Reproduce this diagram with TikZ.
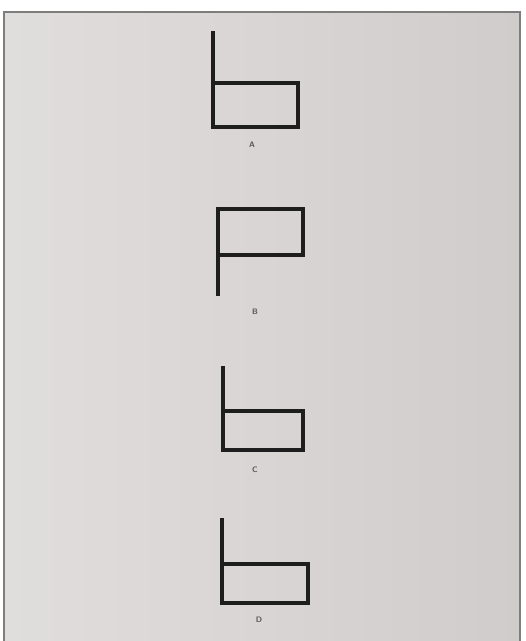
\documentclass[tikz,border=0pt]{standalone}
\usepackage{tikz}
\usepackage{xcolor}
\definecolor{paperL}{RGB}{224,222,221}
\definecolor{paperR}{RGB}{208,204,203}
\definecolor{frameC}{RGB}{125,125,125}
\definecolor{inkC}{RGB}{30,30,30}

\begin{document}
\begin{tikzpicture}[
    x=0.02cm, y=-0.02cm,
    every node/.style={font=\fontsize{4.5}{4.5}\selectfont\sffamily\bfseries, text=inkC!75},
    flag/.style={draw=inkC, line width=2.2pt, line cap=rect, line join=miter},
    letter/.style={inner sep=0pt},
  ]

  % picture size in pixels
  \useasboundingbox (0, 0) rectangle (525, 641);

  % --- Sheet of paper with a thin frame ---
  \shade[left color=paperL, right color=paperR] (4, 12) rectangle (520, 641);
  \draw[frameC, line width=0.8pt] (4, 641) -- (4, 12) -- (520, 12) -- (520, 641);

  % --- A: pole on the left, box at the bottom ---
  \draw[flag] (213, 33) -- (213, 127) -- (298, 127) -- (298, 83) -- (213, 83);
  \node[letter] (labA) at (252, 145) {A};

  % --- B: box at the top, pole going down ---
  \draw[flag] (218, 294) -- (218, 209) -- (303, 209) -- (303, 255) -- (218, 255);
  \node[letter] (labB) at (255, 312) {B};

  % --- C: shorter box at the bottom ---
  \draw[flag] (223, 368) -- (223, 450) -- (303, 450) -- (303, 411) -- (223, 411);
  \node[letter] (labC) at (255, 470) {C};

  % --- D: pole on the left, wider box ---
  \draw[flag] (222, 520) -- (222, 603) -- (308, 603) -- (308, 564) -- (222, 564);
  \node[letter] (labD) at (259, 620) {D};

\end{tikzpicture}
\end{document}
